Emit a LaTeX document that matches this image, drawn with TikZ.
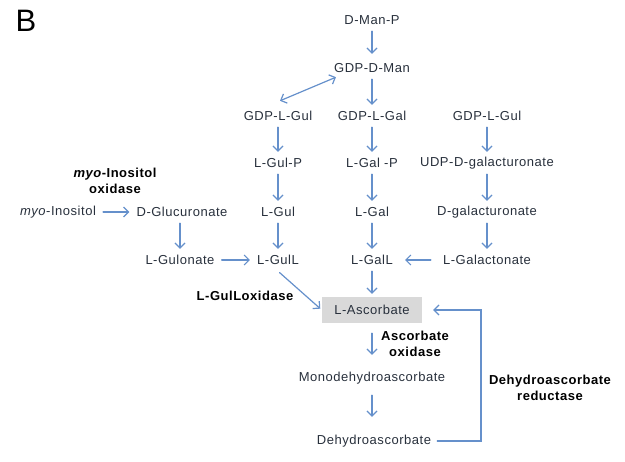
\documentclass[tikz,border=0pt]{standalone}
\usepackage{fontspec}
\setmainfont{Liberation Sans}[LetterSpace=4]
\usetikzlibrary{arrows.meta,calc}
\definecolor{txt}{HTML}{28303C}
\definecolor{arr}{HTML}{6590CB}
\definecolor{boxg}{HTML}{D9D9D9}
\begin{document}
\begin{tikzpicture}[x=1pt,y=-1pt,
  met/.style={font=\fontsize{13}{15}\selectfont, text=txt, inner sep=0pt, minimum height=22pt},
  lab/.style={font=\fontsize{13}{16}\selectfont\bfseries, text=black, align=center, inner sep=0pt},
  tip/.tip={Straight Barb[length=5pt,width=10pt]},
  flow/.style={draw=arr, line width=1.2pt, line cap=round, -tip},
  hflow/.style={flow, shorten >=7pt, shorten <=7pt},
  ]
\useasboundingbox (0,0) rectangle (625,462);
\node[font=\fontsize{31}{31}\selectfont, text=black, inner sep=0pt] (B) at (26,21) {B};

\node[met] (dmanp) at (372,20) {D-Man-P};
\node[met] (gdpdman) at (372,68) {GDP-D-Man};
\node[met] (gdplgul) at (278,116) {GDP-L-Gul};
\node[met] (gdplgal) at (372,116) {GDP-L-Gal};
\node[met] (gdplgulb) at (487,116) {GDP-L-Gul};
\node[met] (lgulp) at (278,163) {L-Gul-P};
\node[met] (lgalp) at (372,163) {L-Gal -P};
\node[met] (udp) at (487,163) {UDP-D-galacturonate};
\node[met] (myo) at (58,212) {\textit{myo}-Inositol};
\node[met] (dgluc) at (182,212) {D-Glucuronate};
\node[met] (lgul) at (278,212) {L-Gul};
\node[met] (lgal) at (372,212) {L-Gal};
\node[met] (dgalact) at (487,212) {D-galacturonate};
\node[met] (lgulonate) at (180,260) {L-Gulonate};
\node[met] (lgull) at (278,260) {L-GulL};
\node[met] (lgall) at (372,260) {L-GalL};
\node[met] (lgalactonate) at (487,260) {L-Galactonate};
\node[met, fill=boxg, minimum width=100pt, minimum height=26pt] (asc) at (372,310) {L-Ascorbate};
\node[met] (mono) at (372,378) {Monodehydroascorbate};
\node[met] (dha) at (374,441) {Dehydroascorbate};

\node[lab] (myoox) at (115,181) {\textit{myo}-Inositol\\oxidase};
\node[lab] (gulox) at (245,296) {L-GulLoxidase};
\node[lab] (ascox) at (415,344) {Ascorbate\\oxidase};
\node[lab] (dhar) at (550,388) {Dehydroascorbate\\reductase};

\draw[flow, shorten >=3pt] (dmanp) -- (gdpdman);
\draw[flow] (gdpdman) -- (gdplgal);
\draw[flow, tip-tip] ($(gdpdman.south west)+(2,-2)$) -- ($(gdplgul.north)+(2,-4)$);
\draw[flow] (gdplgul) -- (lgulp);
\draw[flow] (lgulp) -- (lgul);
\draw[flow] (lgul) -- (lgull);
\draw[flow] (gdplgal) -- (lgalp);
\draw[flow] (lgalp) -- (lgal);
\draw[flow] (lgal) -- (lgall);
\draw[flow] (gdplgulb) -- (udp);
\draw[flow] (udp) -- (dgalact);
\draw[flow] (dgalact) -- (lgalactonate);
\draw[hflow] (myo) -- (dgluc);
\draw[flow] (dgluc.south -| lgulonate) -- (lgulonate);
\draw[hflow] (lgulonate) -- (lgull);
\draw[hflow, shorten >=12pt, shorten <=12pt] (lgalactonate) -- (lgall);
\draw[flow, shorten >=3pt] (lgall) -- (asc);
\draw[flow, shorten <=2pt, shorten >=2pt] (lgull.south) -- (asc.west);
\draw[flow, shorten <=10pt, shorten >=12pt] (asc) -- (mono);
\draw[flow, shorten <=6pt, shorten >=13pt] (mono) -- (mono |- dha.north);
\coordinate (c1) at (481,441);
\draw[flow, shorten >=11pt] ([xshift=6pt]dha.east) -- (c1) -- (c1 |- asc.east) -- (asc.east);
\end{tikzpicture}
\end{document}
